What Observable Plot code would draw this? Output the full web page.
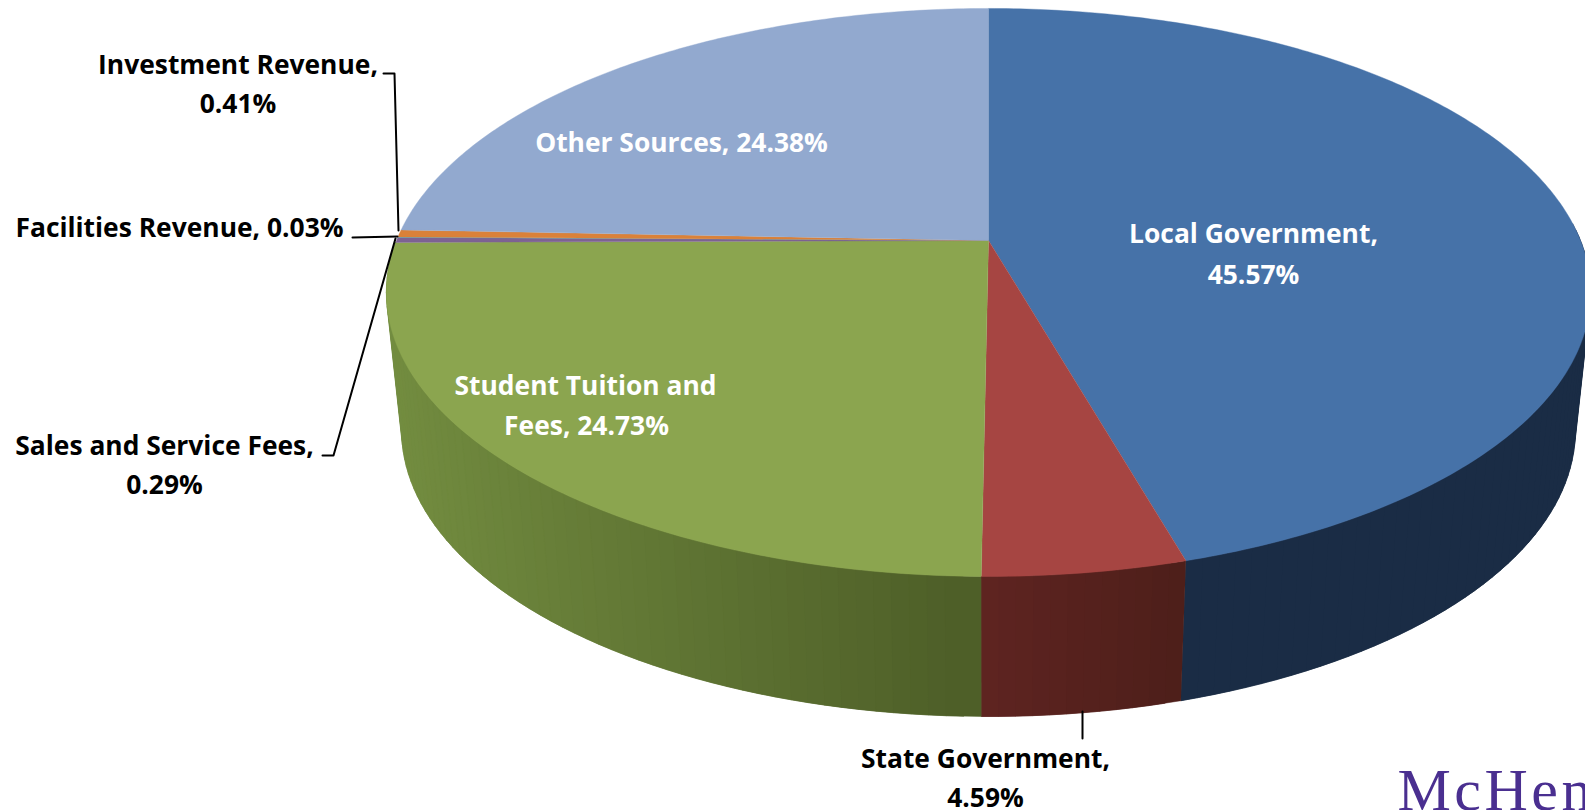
<!DOCTYPE html>
<html>
<head>
<meta charset="utf-8">
<style>html,body{margin:0;padding:0;background:#fff;overflow:hidden}</style>
<script src="https://cdn.jsdelivr.net/npm/d3@7"></script>
<script src="https://cdn.jsdelivr.net/npm/@observablehq/plot@0.6"></script>
</head>
<body>
<div id="chart"></div>
<script>
// Revenue shares, clockwise from twelve o'clock
const categories = ["Local Government", "State Government", "Student Tuition and Fees", "Sales and Service Fees", "Facilities Revenue", "Investment Revenue", "Other Sources"];
const shares = [45.57, 4.59, 24.73, 0.29, 0.03, 0.41, 24.38];
const topColors = ["#4672a8", "#a64542", "#8ba54f", "#7d6293", "#4198af", "#da8139", "#92a9cf"];

// Wall shading per slice: [colour at its left end, colour at its right end]
const wallShades = {
  "Local Government": ["#1a2c45", "#1a2c45"],
  "State Government": ["#5f2421", "#4e1f1a"],
  "Student Tuition and Fees": ["#738d40", "#4e5f28"]
};
// Only the part of each wall that faces the viewer is drawn
const wallFrom = {"Local Government": 24};

// Perspective of the disc: top rim and bottom rim
const topRim = {cx: 988, cy: 240, r: 592, a: 274.5, k: 0.183};
const lowRim = {cx: 988, cy: 377.7, r: 577, a: 276.4, k: 0.183};

function project(rim, pct) {
  const t = 2 * Math.PI * pct / 100;
  const X = Math.sin(t), Y = Math.cos(t), d = 1 + rim.k * Y;
  return {x: rim.cx + rim.r * X / d, y: rim.cy - rim.a * Y / d};
}

// Cumulative start and end of each slice
let running = 0;
const slices = categories.map((name, i) => {
  const start = running;
  running += shares[i];
  return {name, start, end: running};
});

function steps(a, b, step) {
  const n = Math.max(1, Math.ceil((b - a) / step));
  return d3.range(n + 1).map(i => a + (b - a) * i / n);
}

// Outline of each face of the top of the pie
const facePoints = slices.flatMap(s => [
  {name: s.name, x: topRim.cx, y: topRim.cy},
  ...steps(s.start, s.end, 0.2).map(p => ({name: s.name, ...project(topRim, p)}))
]);

// Side wall, built as narrow strips between the two rims; every strip reaches
// under the next one so that no seams show, and is shaded by its left-right position
const wallPoints = slices.filter(s => wallShades[s.name]).flatMap(s => {
  const from = wallFrom[s.name] ?? s.start;
  const stops = steps(from, s.end, 0.4);
  const shade = d3.interpolateRgb(...wallShades[s.name]);
  const [left, right] = d3.extent(stops, p => project(lowRim, p).x);
  const strips = d3.pairs(stops).map(([p], j) => ({
    p,
    q: stops[Math.min(j + 2, stops.length - 1)],
    t: (project(lowRim, p).x - left) / (right - left),
    id: s.name + j
  }));
  // Paint from the outer edge of the pie towards the front
  if (s.start > 49) strips.reverse();
  return strips.flatMap(({p, q, t, id}) => {
    const color = shade(Math.min(1, Math.max(0, t)));
    return [project(topRim, p), project(topRim, q), project(lowRim, q), project(lowRim, p)]
      .map(pt => ({id, color, ...pt}));
  });
});

// Text lines with their anchor points
const labelLines = [
  ["Investment Revenue,", 237.5, 65, "#000"],
  ["0.41%", 237.5, 104, "#000"],
  ["Facilities Revenue, 0.03%", 179, 228, "#000"],
  ["Sales and Service Fees,", 164, 446, "#000"],
  ["0.29%", 164, 485, "#000"],
  ["State Government,", 985, 759, "#000"],
  ["4.59%", 985, 798, "#000"],
  ["Other Sources, 24.38%", 681, 143, "#fff"],
  ["Local Government,", 1253, 234.5, "#fff"],
  ["45.57%", 1253, 275, "#fff"],
  ["Student Tuition and", 585, 386, "#fff"],
  ["Fees, 24.73%", 586, 426, "#fff"]
];

// Leader lines from outside labels to their slices
const leaders = [
  {id: "investment", x: 383, y: 73}, {id: "investment", x: 394, y: 73}, {id: "investment", x: 398, y: 230},
  {id: "facilities", x: 352, y: 237}, {id: "facilities", x: 397, y: 236},
  {id: "sales", x: 322, y: 455}, {id: "sales", x: 333, y: 455}, {id: "sales", x: 395, y: 238},
  {id: "state", x: 1082, y: 711}, {id: "state", x: 1082, y: 738}
];

const chart = Plot.plot({
  width: 1585,
  height: 810,
  margin: 0,
  x: {domain: [0, 1585], range: [0, 1585], axis: null},
  y: {domain: [0, 810], range: [0, 810], axis: null},
  color: {domain: categories, range: topColors},
  style: {background: "#fff"},
  marks: [
    Plot.line(wallPoints, {
      x: "x", y: "y", z: "id",
      fill: {value: d => d.color, scale: null},
      stroke: {value: d => d.color, scale: null},
      strokeWidth: 0.5
    }),
    Plot.line(facePoints, {
      x: "x", y: "y", z: "name", fill: "name", stroke: "name", strokeWidth: 0.4
    }),
    Plot.line(leaders, {x: "x", y: "y", z: "id", stroke: "#000", strokeWidth: 2}),
    Plot.text(labelLines, {
      x: d => d[1], y: d => d[2], text: d => d[0],
      fill: {value: d => d[3], scale: null},
      fontFamily: "Open Sans", fontWeight: 700, fontSize: 26.4, textAnchor: "middle", lineAnchor: "middle"
    }),
    Plot.text(["McHen"], {
      x: () => 1397, y: () => 809, text: d => d,
      fill: "#4a2f90", fontFamily: "Liberation Serif", fontSize: 60,
      textAnchor: "start", lineAnchor: "bottom",
      render(index, scales, values, dimensions, context, next) {
        const g = next(index, scales, values, dimensions, context);
        g.style.letterSpacing = "3.5px";
        return g;
      }
    })
  ]
});
document.getElementById("chart").append(chart);
</script>
</body>
</html>
